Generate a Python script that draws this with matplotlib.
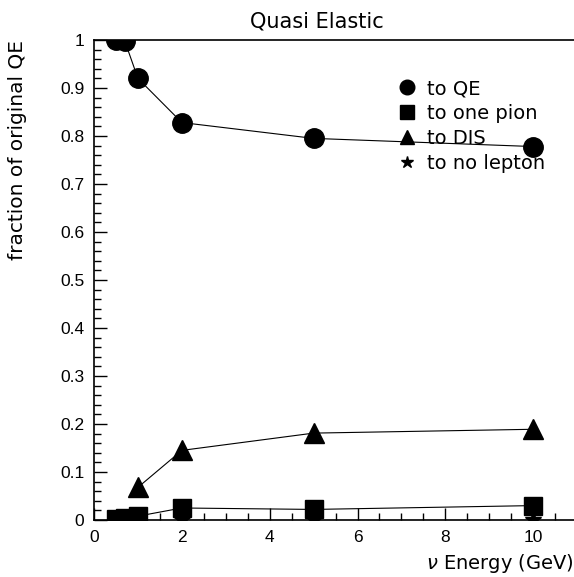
import numpy as np
import matplotlib.pyplot as plt
from matplotlib.ticker import MultipleLocator

# neutrino energies (GeV) and fraction of original QE events per final state
energy = [0.5, 0.7, 1.0, 2.0, 5.0, 10.0]
to_qe = [1.0, 0.998, 0.92, 0.828, 0.795, 0.778]
to_one_pion = [0.002, 0.004, 0.008, 0.025, 0.022, 0.030]
to_dis = [0.0, 0.0, 0.068, 0.145, 0.181, 0.189]
to_no_lepton = [0.0, 0.0, 0.0, 0.0, 0.0, 0.0]

fig = plt.figure(figsize=(5.74, 5.77), dpi=100)
ax = fig.add_axes([0.1638, 0.0988, 0.8362, 0.8319])

ax.plot(energy, to_qe, color='black', lw=0.8, marker='o', ms=14, label='to QE', zorder=3)
ax.plot(energy, to_one_pion, color='black', lw=0.8, marker='s', ms=13, label='to one pion', zorder=3)
ax.plot(energy[2:], to_dis[2:], color='black', lw=0.8, marker='^', ms=14, label='to DIS', zorder=3)
ax.plot(energy, to_no_lepton, color='black', lw=0.8, marker='*', ms=12, label='to no lepton', zorder=2)

ax.set_xlim(0, 10.93)
ax.set_ylim(0, 1)

ax.xaxis.set_major_locator(MultipleLocator(2))
ax.xaxis.set_minor_locator(MultipleLocator(0.5))
ax.yaxis.set_major_locator(MultipleLocator(0.1))
ax.yaxis.set_minor_locator(MultipleLocator(0.02))
ax.yaxis.set_major_formatter(plt.FuncFormatter(lambda v, p: '0' if abs(v) < 1e-9 else ('1' if abs(v - 1) < 1e-9 else '%.1f' % v)))

ax.tick_params(which='both', direction='in', top=False, right=False, labelsize=12.5, width=1)
ax.tick_params(which='major', length=9, pad=7)
ax.tick_params(which='minor', length=5)
for lab in ax.get_xticklabels() + ax.get_yticklabels():
    lab.set_fontfamily('Liberation Sans')

ax.spines['right'].set_visible(False)
for s in ['left', 'bottom', 'top']:
    ax.spines[s].set_linewidth(1.2)

ax.set_title('Quasi Elastic', fontsize=15, x=0.465, pad=9)
ax.set_ylabel('fraction of original QE', fontsize=14.5, loc='top', labelpad=24)
ax.set_xlabel(r'$\nu$ Energy (GeV)', fontsize=14, loc='right', labelpad=5)

leg = ax.legend(loc='upper left', bbox_to_anchor=(0.595, 0.955), frameon=False, fontsize=14,
                handlelength=1.0, handletextpad=0.55, labelspacing=0.3, markerscale=0.75)
for h in leg.legend_handles:
    h.set_linestyle('None')

fig.savefig('out.png', dpi=100)
